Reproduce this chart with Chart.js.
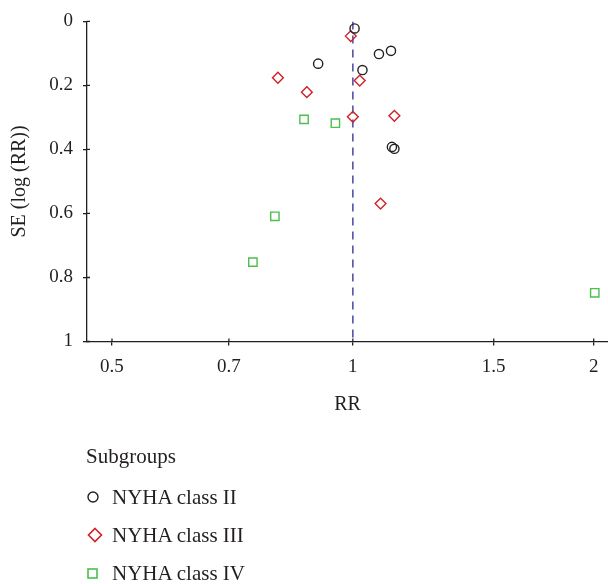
<!DOCTYPE html>
<html>
<head>
<meta charset="utf-8">
<script src="https://cdn.jsdelivr.net/npm/chart.js@4/dist/chart.umd.min.js"></script>
<style>
  html, body { margin: 0; padding: 0; background: #fff; overflow: hidden; }
  #wrap { position: relative; width: 608px; height: 584px; }
  #wrap canvas { display: block; width: 608px; height: 584px; }
  #legend { position: absolute; left: 0; top: 0; width: 608px; height: 584px; pointer-events: none;
            font-family: "Liberation Serif", "DejaVu Serif", serif; color: #231f20; font-size: 21px; }
  #legend .t { position: absolute; left: 86px; top: 443px; line-height: 26px; }
  #legend .it { position: absolute; left: 84px; height: 26px; line-height: 26px; white-space: nowrap; }
  #legend .it svg { position: absolute; left: 0; top: 4px; }
  #legend .it span { position: absolute; left: 28px; top: 0; }
</style>
</head>
<body>
<div id="wrap">
  <canvas id="c" width="608" height="584"></canvas>
  <div id="legend"></div>
</div>
<script>
// ---- data ----
const seriesNames = ["NYHA class II", "NYHA class III", "NYHA class IV"];
const classII_rr  = [1.005, 1.078, 1.116, 0.905, 1.028, 1.119, 1.127];
const classII_se  = [0.022, 0.102, 0.092, 0.132, 0.152, 0.392, 0.398];
const classIII_rr = [0.994, 0.806, 0.876, 1.020, 1.000, 1.127, 1.083];
const classIII_se = [0.046, 0.176, 0.221, 0.185, 0.298, 0.295, 0.569];
const classIV_rr  = [0.869, 0.951, 0.799, 0.750, 2.006];
const classIV_se  = [0.306, 0.318, 0.609, 0.752, 0.848];
const pooledRR    = [1, 1];
const pooledSE    = [0, 1];
const xTickVals   = [0.5, 0.7, 1, 1.5, 2];
const xTickLabels = ["0.5", "0.7", "1", "1.5", "2"];
const yTickVals   = [0, 0.2, 0.4, 0.6, 0.8, 1];
const yTickLabels = ["0", "0.2", "0.4", "0.6", "0.8", "1"];

const pts = (xs, ys) => xs.map((x, i) => ({ x: x, y: ys[i] }));
const FONT = '"Liberation Serif", "DejaVu Serif", serif';
const AXIS = '#231f20';

const styles = [
  { color: '#222222', style: 'circle',  radius: 4.6 },
  { color: '#d0202a', style: 'rectRot', radius: 5.4 },
  { color: '#4cbf4c', style: 'rect',    radius: 5.9 }
];

const scatterSets = [pts(classII_rr, classII_se), pts(classIII_rr, classIII_se), pts(classIV_rr, classIV_se)]
  .map((d, i) => ({
    type: 'scatter',
    label: seriesNames[i],
    data: d,
    pointStyle: styles[i].style,
    pointRadius: styles[i].radius,
    pointHoverRadius: styles[i].radius,
    pointBorderWidth: 1.4,
    borderColor: styles[i].color,
    backgroundColor: 'rgba(0,0,0,0)',
    pointBackgroundColor: 'rgba(0,0,0,0)',
    clip: false,
    order: 1
  }));

const tickCross = {
  id: 'tickCross',
  afterDraw(chart) {
    const ctx = chart.ctx;
    ctx.save();
    ctx.strokeStyle = AXIS;
    ctx.lineWidth = 1.3;
    const xs = chart.scales.x, ys = chart.scales.y;
    ctx.beginPath();
    xs.ticks.forEach((t, i) => {
      const p = xs.getPixelForTick(i);
      ctx.moveTo(p, xs.top); ctx.lineTo(p, xs.top - 3);
    });
    ys.ticks.forEach((t, i) => {
      const p = ys.getPixelForTick(i);
      ctx.moveTo(ys.right, p); ctx.lineTo(ys.right + 3, p);
    });
    ctx.stroke();
    ctx.restore();
  }
};

const chart = new Chart(document.getElementById('c'), {
  data: {
    datasets: [
      ...scatterSets,
      {
        type: 'line',
        label: 'pooled',
        data: pts(pooledRR, pooledSE),
        borderColor: '#5252a8',
        borderWidth: 1.6,
        borderDash: [8, 6],
        pointRadius: 0,
        fill: false,
        order: 10
      }
    ]
  },
  options: {
    responsive: false,
    animation: false,
    events: [],
    layout: { autoPadding: false, padding: { top: 17, right: 0, bottom: 154.5, left: 0 } },
    plugins: { legend: { display: false }, tooltip: { enabled: false } },
    scales: {
      x: {
        type: 'logarithmic',
        min: 0.4653,
        max: 2.084,
        afterBuildTicks: s => { s.ticks = xTickVals.map(v => ({ value: v })); },
        afterFit: s => { s.height = 88; s.paddingLeft = 0; s.paddingRight = 0; },
        ticks: {
          autoSkip: false, maxRotation: 0, color: AXIS, padding: 10,
          font: { family: FONT, size: 19 },
          callback: (v) => xTickLabels[xTickVals.indexOf(v)]
        },
        grid: { drawOnChartArea: false, drawTicks: true, tickLength: 4, color: AXIS, lineWidth: 1.3 },
        border: { display: true, color: AXIS, width: 1.3 },
        title: { display: true, text: 'RR', color: AXIS, font: { family: FONT, size: 20 }, padding: { top: 4, bottom: 13 } }
      },
      y: {
        type: 'linear',
        reverse: true,
        min: 0,
        max: 1,
        afterBuildTicks: s => { s.ticks = yTickVals.map(v => ({ value: v })); },
        afterFit: s => { s.width = 87; },
        ticks: {
          color: AXIS, padding: 10,
          font: { family: FONT, size: 19 },
          callback: (v) => yTickLabels[yTickVals.indexOf(v)]
        },
        grid: { drawOnChartArea: false, drawTicks: true, tickLength: 4, color: AXIS, lineWidth: 1.3 },
        border: { display: true, color: AXIS, width: 1.3 },
        title: { display: true, text: 'SE (log (RR))', color: AXIS, font: { family: FONT, size: 20 }, padding: { top: 8, bottom: 4 } }
      }
    }
  },
  plugins: [tickCross]
});

// HTML legend built from the series
const legend = document.getElementById('legend');
legend.innerHTML = '<div class="t">Subgroups</div>';
const itemTops = [484, 522, 560];
const svgFor = (i) => {
  const c = styles[i].color;
  if (styles[i].style === 'circle') return `<svg width="18" height="18"><circle cx="9" cy="9" r="5" fill="none" stroke="${c}" stroke-width="1.4"/></svg>`;
  if (styles[i].style === 'rectRot') return `<svg width="22" height="18"><polygon points="11,2.5 17.5,9 11,15.5 4.5,9" fill="none" stroke="${c}" stroke-width="1.6"/></svg>`;
  return `<svg width="18" height="18"><rect x="4" y="5" width="9" height="9" fill="none" stroke="${c}" stroke-width="1.6"/></svg>`;
};
seriesNames.forEach((n, i) => {
  const d = document.createElement('div');
  d.className = 'it';
  d.style.top = itemTops[i] + 'px';
  d.innerHTML = svgFor(i) + '<span>' + n + '</span>';
  legend.appendChild(d);
});
</script>
</body>
</html>
